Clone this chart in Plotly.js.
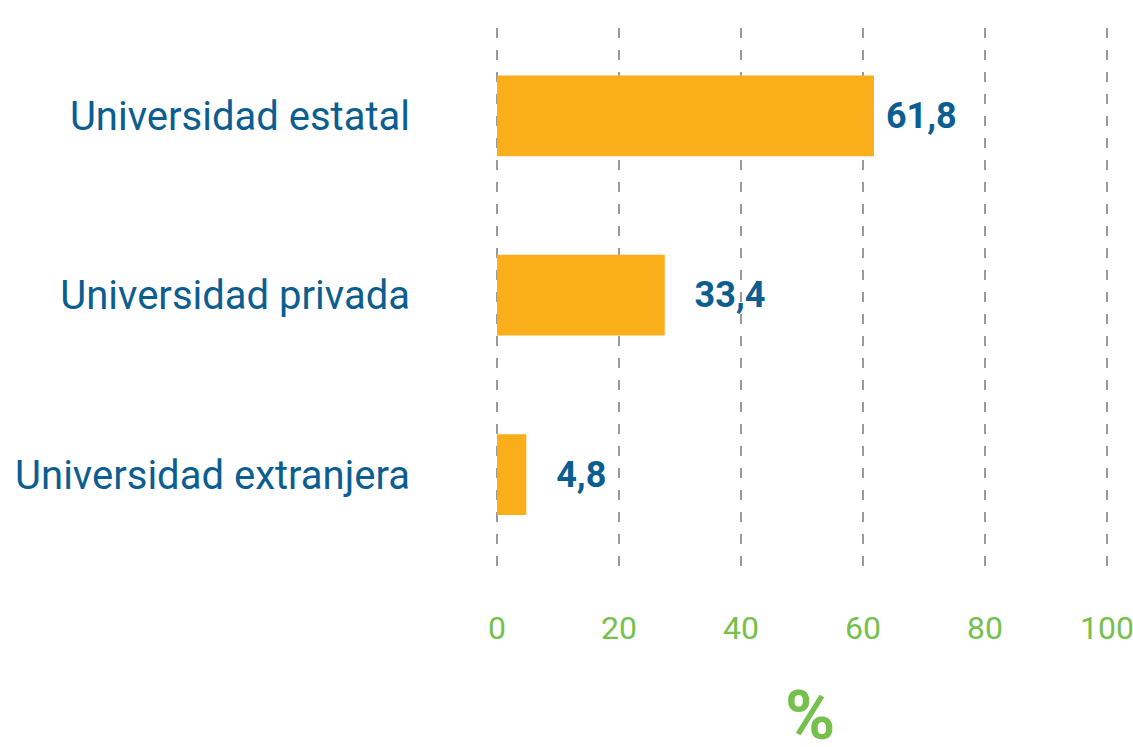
<!DOCTYPE html>
<html>
<head>
<meta charset="utf-8">
<script src="https://cdn.plot.ly/plotly-3.0.1.min.js"></script>
<style>html,body{margin:0;padding:0;background:#fff;}#chart{width:1133px;height:747px;}</style>
</head>
<body>
<div id="chart"></div>
<script>
const categories = ["Universidad estatal", "Universidad privada", "Universidad extranjera"];
const barValues = [61.8, 27.5, 4.8];
const valueLabels = ["61,8", "33,4", "4,8"];
const tickValues = [0, 20, 40, 60, 80, 100];
const tickLabels = ["0", "20", "40", "60", "80", "100"];
const axisTitle = "%";

const blue = "#0B5E8F";
const green = "#76C04E";
const orange = "#F9AE1A";

const trace = {
  type: "bar",
  orientation: "h",
  y: categories,
  x: barValues,
  text: valueLabels,
  texttemplate: ["\u00a0%{text}", "\u00a0\u00a0\u00a0%{text}", "\u00a0\u00a0\u00a0%{text}"],
  textposition: "outside",
  constraintext: "none",
  cliponaxis: false,
  textfont: {family: "Roboto", size: 36, color: blue, weight: 700},
  marker: {color: orange},
  width: 0.45,
  hoverinfo: "skip"
};

const layout = {
  width: 1133,
  height: 747,
  margin: {l: 494, r: 23, t: 28, b: 172},
  paper_bgcolor: "#fff",
  plot_bgcolor: "#fff",
  showlegend: false,
  font: {family: "Roboto"},
  xaxis: {
    range: [-0.5, 100.5],
    tickvals: tickValues,
    ticktext: tickLabels,
    tickfont: {family: "Roboto", size: 32, color: green},
    ticklabeloverflow: "allow",
    showgrid: true,
    gridcolor: "#9a9a9a",
    gridwidth: 1.2,
    griddash: "10px,12px",
    zeroline: false,
    showline: false,
    ticks: "",
    ticklabelstandoff: 31
  },
  yaxis: {
    type: "category",
    range: [2.56, -0.49],
    tickfont: {family: "Roboto", size: 40, color: blue},
    showgrid: false,
    zeroline: false,
    showline: false,
    ticks: "",
    ticklabelstandoff: 83
  },
  annotations: [{
    text: "<b>" + axisTitle + "</b>",
    xref: "paper", yref: "paper",
    x: 0.513, y: -0.258,
    xanchor: "center", yanchor: "middle",
    showarrow: false,
    font: {family: "Roboto", size: 68, color: green}
  }]
};

Plotly.newPlot("chart", [trace], layout, {displayModeBar: false, staticPlot: true});
</script>
</body>
</html>
